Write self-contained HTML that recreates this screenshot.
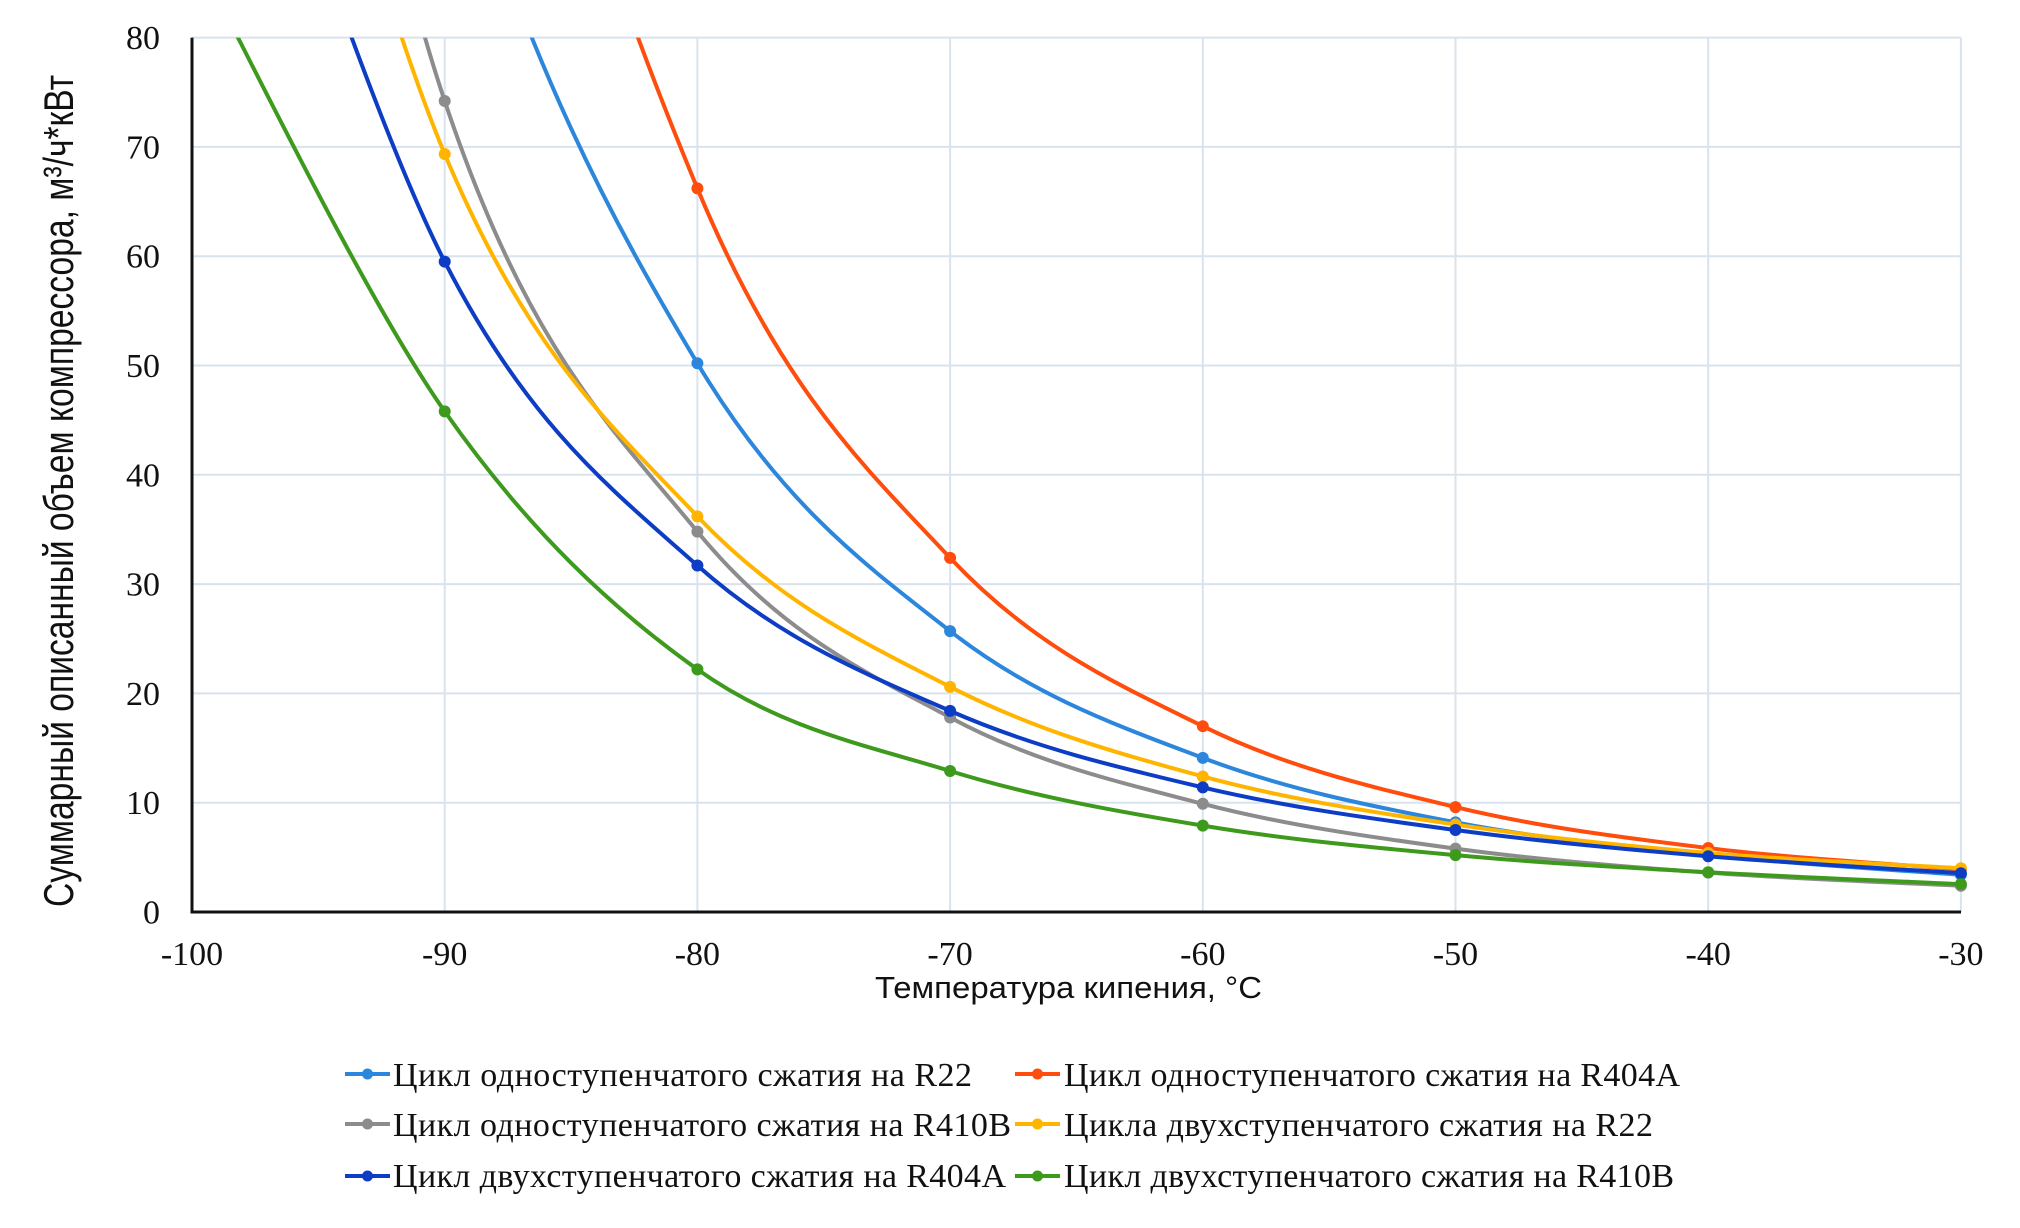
<!DOCTYPE html>
<html>
<head>
<meta charset="utf-8">
<style>
html,body{margin:0;padding:0;background:#fff;width:2020px;height:1228px;overflow:hidden;}
svg{display:block;}
.tick{font-family:"Liberation Serif",serif;font-size:34px;fill:#111;}
.leg{font-family:"Liberation Serif",serif;font-size:34px;fill:#111;}
.ttl{font-family:"Liberation Sans",sans-serif;fill:#111;}
</style>
</head>
<body>
<svg id="c" width="2020" height="1228" viewBox="0 0 2020 1228" xmlns="http://www.w3.org/2000/svg">
<rect x="0" y="0" width="2020" height="1228" fill="#fff"/>
<defs><clipPath id="clip"><rect x="192" y="37.6" width="1769" height="874.4"/></clipPath></defs>
<g stroke="#d8e3ee" stroke-width="2">
<line x1="192" y1="802.7" x2="1961" y2="802.7"/>
<line x1="192" y1="693.4" x2="1961" y2="693.4"/>
<line x1="192" y1="584.1" x2="1961" y2="584.1"/>
<line x1="192" y1="474.8" x2="1961" y2="474.8"/>
<line x1="192" y1="365.5" x2="1961" y2="365.5"/>
<line x1="192" y1="256.2" x2="1961" y2="256.2"/>
<line x1="192" y1="146.9" x2="1961" y2="146.9"/>
<line x1="192" y1="37.6" x2="1961" y2="37.6"/>
<line x1="444.7" y1="37.6" x2="444.7" y2="912"/>
<line x1="697.4" y1="37.6" x2="697.4" y2="912"/>
<line x1="950.1" y1="37.6" x2="950.1" y2="912"/>
<line x1="1202.8" y1="37.6" x2="1202.8" y2="912"/>
<line x1="1455.5" y1="37.6" x2="1455.5" y2="912"/>
<line x1="1708.2" y1="37.6" x2="1708.2" y2="912"/>
<line x1="1960.9" y1="37.6" x2="1960.9" y2="912"/>
</g>
<g stroke="#111" stroke-width="3">
<line x1="192" y1="37.6" x2="192" y2="913.5"/>
<line x1="190.5" y1="912" x2="1961" y2="912"/>
</g>
<g class="tick" text-anchor="end">
<text x="160" y="923.5">0</text>
<text x="160" y="814.2">10</text>
<text x="160" y="704.9">20</text>
<text x="160" y="595.6">30</text>
<text x="160" y="486.3">40</text>
<text x="160" y="377">50</text>
<text x="160" y="267.7">60</text>
<text x="160" y="158.4">70</text>
<text x="160" y="49.1">80</text>
</g>
<g class="tick" text-anchor="middle">
<text x="192" y="965">-100</text>
<text x="444.7" y="965">-90</text>
<text x="697.4" y="965">-80</text>
<text x="950.1" y="965">-70</text>
<text x="1202.8" y="965">-60</text>
<text x="1455.5" y="965">-50</text>
<text x="1708.2" y="965">-40</text>
<text x="1960.9" y="965">-30</text>
</g>
<text class="ttl" font-size="31" x="875" y="998" textLength="387" lengthAdjust="spacingAndGlyphs">Температура кипения, °C</text>
<text class="ttl" font-size="42" transform="translate(73,907) rotate(-90)" x="0" y="0" textLength="832" lengthAdjust="spacingAndGlyphs">Суммарный описанный объем компрессора, м³/ч*кВт</text>
<g id="series"></g>

<g stroke-width="4">
<line x1="345" y1="1074" x2="390" y2="1074" stroke="#2c87dc"/>
<line x1="345" y1="1124" x2="390" y2="1124" stroke="#8c8c8c"/>
<line x1="345" y1="1176" x2="390" y2="1176" stroke="#0d3dc4"/>
<line x1="1015" y1="1074" x2="1060" y2="1074" stroke="#ff4d0d"/>
<line x1="1015" y1="1124" x2="1060" y2="1124" stroke="#ffb500"/>
<line x1="1015" y1="1176" x2="1060" y2="1176" stroke="#3d9a1d"/>
</g>
<circle cx="367.5" cy="1074" r="5.5" fill="#2c87dc"/>
<circle cx="367.5" cy="1124" r="5.5" fill="#8c8c8c"/>
<circle cx="367.5" cy="1176" r="5.5" fill="#0d3dc4"/>
<circle cx="1037.5" cy="1074" r="5.5" fill="#ff4d0d"/>
<circle cx="1037.5" cy="1124" r="5.5" fill="#ffb500"/>
<circle cx="1037.5" cy="1176" r="5.5" fill="#3d9a1d"/>
<g class="leg">
<text x="393" y="1086" textLength="579" lengthAdjust="spacing">Цикл одноступенчатого сжатия на R22</text>
<text x="393" y="1136" textLength="618" lengthAdjust="spacing">Цикл одноступенчатого сжатия на R410B</text>
<text x="393" y="1187" textLength="613" lengthAdjust="spacing">Цикл двухступенчатого сжатия на R404A</text>
<text x="1064" y="1086" textLength="616" lengthAdjust="spacing">Цикл одноступенчатого сжатия на R404A</text>
<text x="1064" y="1136" textLength="589" lengthAdjust="spacing">Цикла двухступенчатого сжатия на R22</text>
<text x="1064" y="1187" textLength="610" lengthAdjust="spacing">Цикл двухступенчатого сжатия на R410B</text>
</g>
</svg>
<script>
(function(){
var XS=25.27, YS=10.93;
function px(t){return 192+(t+100)*XS;}
function py(v){return 912-v*YS;}
function segs(P){
  var n=P.length,out=[];
  for(var i=0;i<n-1;i++){
    var p0=P[Math.max(i-1,0)],p1=P[i],p2=P[i+1],p3=P[Math.min(i+2,n-1)];
    var c1=[p1[0]+(p2[0]-p0[0])/6,p1[1]+(p2[1]-p0[1])/6];
    var c2=[p2[0]-(p3[0]-p1[0])/6,p2[1]-(p3[1]-p1[1])/6];
    out.push([p1,c1,c2,p2]);
  }
  return out;
}
function cross(P){
  var S=segs(P);
  for(var j=0;j<S.length;j++){
    var a=S[j][0],b=S[j][1],c=S[j][2],d=S[j][3];
    for(var k=0;k<=2000;k++){
      var s=k/2000,m=1-s;
      var v=m*m*m*a[1]+3*m*m*s*b[1]+3*m*s*s*c[1]+s*s*s*d[1];
      if(v<80){return m*m*m*a[0]+3*m*m*s*b[0]+3*m*s*s*c[0]+s*s*s*d[0];}
    }
  }
  return 999;
}
function solveA(known,target){
  var lo=50,hi=600;
  for(var i=0;i<60;i++){
    var mid=(lo+hi)/2;
    var t=cross([[-100,mid]].concat(known));
    if(t<target)lo=mid;else hi=mid;
  }
  return [[-100,(lo+hi)/2]].concat(known);
}
var series=[
 {c:"#2c87dc",P:[[-100,206],[-90,103],[-80,50.2],[-70,25.7],[-60,14.1],[-50,8.2],[-40,5.2],[-30,3.4]],vis:2},
 {c:"#ff4d0d",P:[[-100,287],[-90,143.6],[-80,66.2],[-70,32.4],[-60,17.0],[-50,9.6],[-40,5.85],[-30,3.9]],vis:2},
 {c:"#8c8c8c",P:solveA([[-90,74.2],[-80,34.8],[-70,17.8],[-60,9.9],[-50,5.8],[-40,3.6],[-30,2.4]],-90.78),vis:1},
 {c:"#ffb500",P:solveA([[-90,69.35],[-80,36.2],[-70,20.6],[-60,12.4],[-50,8.0],[-40,5.4],[-30,4.0]],-91.70),vis:1},
 {c:"#0d3dc4",P:solveA([[-90,59.5],[-80,31.7],[-70,18.4],[-60,11.4],[-50,7.5],[-40,5.1],[-30,3.55]],-93.68),vis:1},
 {c:"#3d9a1d",P:solveA([[-90,45.8],[-80,22.2],[-70,12.9],[-60,7.9],[-50,5.2],[-40,3.64],[-30,2.55]],-98.18),vis:1}
];
var NS="http://www.w3.org/2000/svg";
var g=document.getElementById("series");
series.forEach(function(sr){
  var S=segs(sr.P);
  var d="M"+px(S[0][0][0]).toFixed(2)+" "+py(S[0][0][1]).toFixed(2);
  S.forEach(function(q){
    d+=" C"+px(q[1][0]).toFixed(2)+" "+py(q[1][1]).toFixed(2)+" "+px(q[2][0]).toFixed(2)+" "+py(q[2][1]).toFixed(2)+" "+px(q[3][0]).toFixed(2)+" "+py(q[3][1]).toFixed(2);
  });
  var cg=document.createElementNS(NS,"g");
  cg.setAttribute("clip-path","url(#clip)");
  var p=document.createElementNS(NS,"path");
  p.setAttribute("d",d);p.setAttribute("fill","none");p.setAttribute("stroke",sr.c);
  p.setAttribute("stroke-width","4");p.setAttribute("stroke-linejoin","round");
  cg.appendChild(p);g.appendChild(cg);
  for(var i=sr.vis;i<sr.P.length;i++){
    var c=document.createElementNS(NS,"circle");
    c.setAttribute("cx",px(sr.P[i][0]).toFixed(2));c.setAttribute("cy",py(sr.P[i][1]).toFixed(2));
    c.setAttribute("r","6");c.setAttribute("fill",sr.c);
    g.appendChild(c);
  }
});
})();
</script>
</body>
</html>
